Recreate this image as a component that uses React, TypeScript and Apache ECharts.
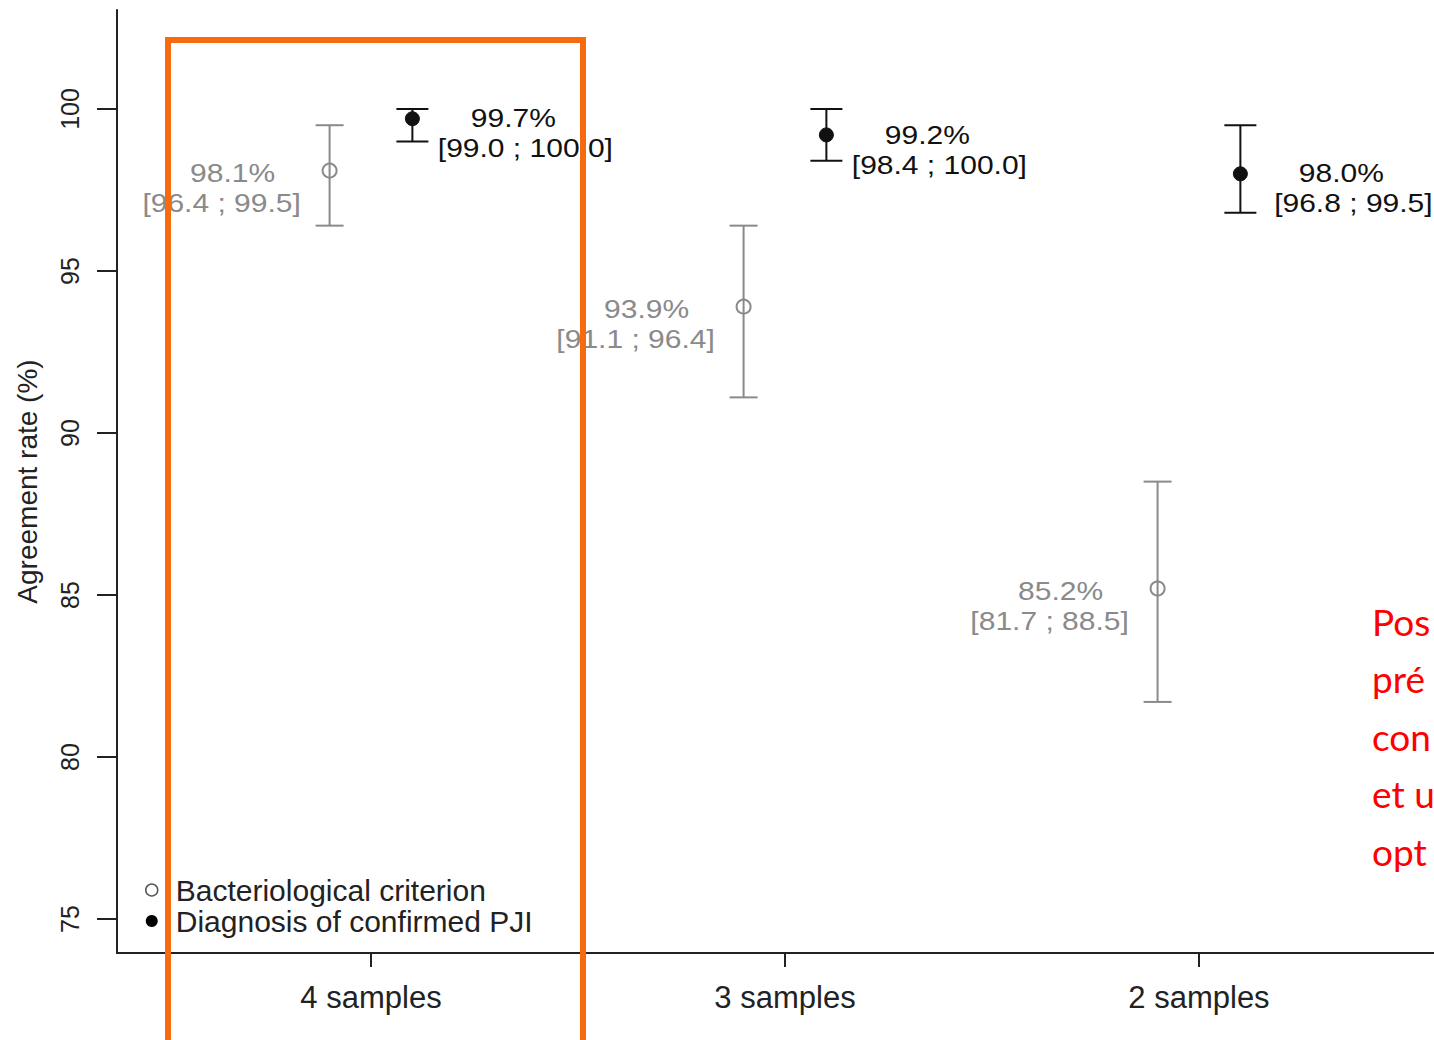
import React, { useEffect, useRef } from "react";
import * as echarts from "echarts";

// ---- data ----
const categories = ["4 samples", "3 samples", "2 samples"];
const categoryPositions = [1, 2, 3];
const seriesNames = ["Bacteriological criterion", "Diagnosis of confirmed PJI"];
const bactMean = [98.1, 93.9, 85.2];
const bactLow = [96.4, 91.1, 81.7];
const bactHigh = [99.5, 96.4, 88.5];
const diagMean = [99.7, 99.2, 98.0];
const diagLow = [99.0, 98.4, 96.8];
const diagHigh = [100.0, 100.0, 99.5];
const yTicks = [75, 80, 85, 90, 95, 100];
const yTitle = "Agreement rate (%)";
const noteLines = ["Pos", "pré", "con", "et u", "opt"];

const FONT = '"Liberation Sans", Arial, sans-serif';
const GRAY = "#8a8a8a";
const BLACK = "#111111";

function makeErrorSeries(
  name: string,
  offset: number,
  mean: number[],
  low: number[],
  high: number[],
  opts: {
    color: string;
    textColor: string;
    filled: boolean;
    r: number;
    cap: number;
    dx1: number;
    dx2: number;
    dy1: number;
    dy2: number;
  }
) {
  const data = categoryPositions.map((c, i) => [c + offset, mean[i], low[i], high[i]]);
  const textStyle = (text: string) => ({
    text,
    x: 0,
    y: 0,
    align: "center",
    verticalAlign: "middle",
    fill: opts.textColor,
    fontSize: 25,
    fontFamily: FONT,
  });
  return {
    type: "custom",
    name,
    data,
    clip: false,
    renderItem: (_params: any, api: any) => {
      const x = api.value(0);
      const m = api.value(1);
      const lo = api.value(2);
      const hi = api.value(3);
      const pM = api.coord([x, m]);
      const pL = api.coord([x, lo]);
      const pH = api.coord([x, hi]);
      const ls = { stroke: opts.color, lineWidth: 2 };
      return {
        type: "group",
        children: [
          { type: "line", shape: { x1: pL[0], y1: pL[1], x2: pH[0], y2: pH[1] }, style: ls },
          { type: "line", shape: { x1: pL[0] - opts.cap, y1: pL[1], x2: pL[0] + opts.cap, y2: pL[1] }, style: ls },
          { type: "line", shape: { x1: pH[0] - opts.cap, y1: pH[1], x2: pH[0] + opts.cap, y2: pH[1] }, style: ls },
          {
            type: "circle",
            shape: { cx: pM[0], cy: pM[1], r: opts.r },
            style: opts.filled
              ? { fill: opts.color, stroke: opts.color, lineWidth: 1 }
              : { fill: "none", stroke: opts.color, lineWidth: 2 },
          },
          {
            type: "text",
            x: pM[0] + opts.dx1,
            y: pM[1] + opts.dy1,
            scaleX: 1.2,
            style: textStyle(`${m.toFixed(1)}%`),
          },
          {
            type: "text",
            x: pM[0] + opts.dx2,
            y: pM[1] + opts.dy2,
            scaleX: 1.2,
            style: textStyle(`[${lo.toFixed(1)} ; ${hi.toFixed(1)}]`),
          },
        ],
      };
    },
  };
}

export default function App() {
  const ref = useRef<HTMLDivElement>(null);

  useEffect(() => {
    if (!ref.current) return;
    const chart = echarts.init(ref.current, null, { renderer: "svg" });
    const option: any = {
      animation: false,
      backgroundColor: "#ffffff",
      grid: { left: 117, top: 10, width: 1317, height: 943, containLabel: false },
      xAxis: {
        type: "value",
        min: 0.3865,
        max: 3.5677,
        splitLine: { show: false },
        axisLine: { show: true, onZero: false, lineStyle: { color: "#222", width: 2 } },
        axisTick: { show: true, length: 14, customValues: categoryPositions, lineStyle: { color: "#222", width: 2 } },
        axisLabel: {
          customValues: categoryPositions,
          formatter: (v: number) => categories[categoryPositions.indexOf(Math.round(v))] ?? "",
          fontSize: 31,
          fontFamily: FONT,
          color: "#222",
          margin: 29,
        },
      },
      yAxis: {
        type: "value",
        min: 73.951,
        max: 103.056,
        splitLine: { show: false },
        axisLine: { show: true, onZero: false, lineStyle: { color: "#222", width: 2 } },
        axisTick: { show: true, length: 20, customValues: yTicks, lineStyle: { color: "#222", width: 2 } },
        axisLabel: {
          customValues: yTicks,
          rotate: 90,
          fontSize: 25,
          fontFamily: FONT,
          color: "#222",
          margin: 35,
        },
        name: yTitle,
        nameLocation: "middle",
        nameRotate: 90,
        nameGap: 76,
        nameTextStyle: { fontSize: 28, fontFamily: FONT, color: "#222" },
      },
      legend: {
        orient: "vertical",
        left: 140,
        top: 870,
        itemWidth: 38,
        itemHeight: 12,
        itemGap: 1,
        selectedMode: false,
        textStyle: { fontSize: 30, fontFamily: FONT, color: "#222", lineHeight: 29 },
        data: [
          { name: seriesNames[0], icon: "circle", itemStyle: { color: "#ffffff", borderColor: "#555", borderWidth: 1.5 } },
          { name: seriesNames[1], icon: "circle", itemStyle: { color: "#000000", borderWidth: 0 } },
        ],
      },
      graphic: [
        {
          type: "rect",
          z: 100,
          shape: { x: 168, y: 40, width: 415, height: 1020 },
          style: { fill: "none", stroke: "#f76a0e", lineWidth: 6 },
        },
        ...noteLines.map((t, i) => ({
          type: "text",
          z: 100,
          x: 1372,
          y: 621 + i * 57.5,
          style: {
            text: t,
            fill: "#ff0000",
            fontSize: 37,
            fontFamily: 'Lato, "Open Sans", sans-serif',
            verticalAlign: "middle",
            align: "left",
          },
        })),
      ],
      series: [
        makeErrorSeries(seriesNames[0], -0.1, bactMean, bactLow, bactHigh, {
          color: GRAY,
          textColor: GRAY,
          filled: false,
          r: 7,
          cap: 14,
          dx1: -97,
          dx2: -108,
          dy1: 3,
          dy2: 33,
        }),
        makeErrorSeries(seriesNames[1], 0.1, diagMean, diagLow, diagHigh, {
          color: BLACK,
          textColor: BLACK,
          filled: true,
          r: 7,
          cap: 16,
          dx1: 101,
          dx2: 113,
          dy1: 0,
          dy2: 30,
        }),
      ],
    };
    chart.setOption(option);
    return () => chart.dispose();
  }, []);

  return (
    <div
      ref={ref}
      style={{ position: "fixed", left: 0, top: 0, width: 1434, height: 1040, background: "#fff" }}
    />
  );
}
